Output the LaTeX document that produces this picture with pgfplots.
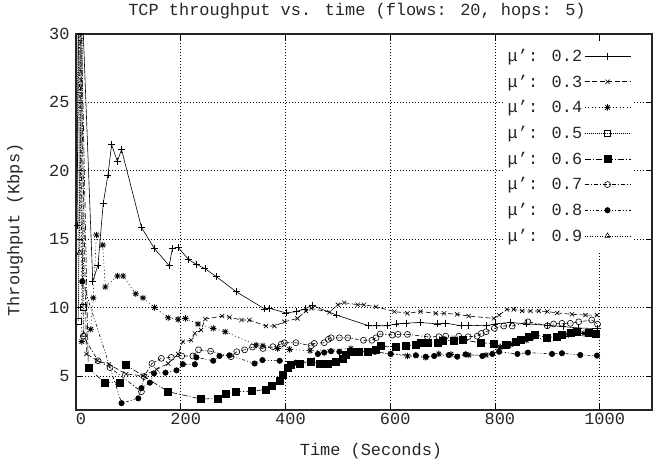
\documentclass[border=0pt]{standalone}
\usepackage{fontspec}
\setmainfont{Liberation Mono}
\usepackage{pgfplots}
\pgfplotsset{compat=1.18}
\pgfdeclareplotmark{plusx}{%
  \pgfpathmoveto{\pgfqpoint{-\pgfplotmarksize}{0pt}}\pgfpathlineto{\pgfqpoint{\pgfplotmarksize}{0pt}}%
  \pgfpathmoveto{\pgfqpoint{0pt}{-\pgfplotmarksize}}\pgfpathlineto{\pgfqpoint{0pt}{\pgfplotmarksize}}%
  \pgfpathmoveto{\pgfqpoint{-0.707\pgfplotmarksize}{-0.707\pgfplotmarksize}}\pgfpathlineto{\pgfqpoint{0.707\pgfplotmarksize}{0.707\pgfplotmarksize}}%
  \pgfpathmoveto{\pgfqpoint{-0.707\pgfplotmarksize}{0.707\pgfplotmarksize}}\pgfpathlineto{\pgfqpoint{0.707\pgfplotmarksize}{-0.707\pgfplotmarksize}}%
  \pgfusepathqstroke}
\newcommand{\fs}{\fontsize{17}{19}\selectfont}
\begin{document}
\begin{tikzpicture}
\begin{axis}[name=ax, at={(0,0)}, anchor=south west,
  scale only axis, width=576bp, height=376bp,
  xmin=0, xmax=1100, ymin=2.5, ymax=30,
  xtick={0,200,...,1000}, ytick={5,10,...,30},
  /pgf/number format/assume math mode=true,
  /pgf/number format/1000 sep={},
  tick label style={font=\fs, text=black!85},
  xticklabel style={xshift=5bp},
  yticklabel style={xshift=-3bp},
  major tick length=6bp,
  tick style={black, line width=0.6bp},
  axis line style={black!85, line width=1.2bp},
  grid=major,
  major grid style={black, line width=0.6bp, dash pattern=on 1bp off 2bp},
  clip=true,
  every axis plot/.append style={black, line width=0.6bp},
  legend plot pos=right,
  legend cell align=right,
  legend image code/.code={\draw[mark repeat=2,mark phase=2] plot coordinates {(0bp,0bp) (23bp,0bp) (46bp,0bp)};},
  legend style={at={(rel axis cs:1,1)}, anchor=north east, xshift=-18bp, yshift=-7bp,
    draw=none, fill=white, font=\fs, text=black!85, row sep=0pt,
    nodes={minimum height=25.7bp, inner ysep=0pt}},
]
% mu' 0.2
\addplot[solid, mark=+, mark size=3.5bp] coordinates {
(2,16) (6,38) (32,11.9) (42,13.1) (52,17.6) (61,19.7) (68,21.9) (79,20.7) (87,21.55)
(125,15.85) (150,14.3) (178,13.05) (184,14.3) (195,14.4) (215,13.5) (230,13.15) (246,12.85)
(268,12.25) (306,11.15) (360,9.9) (370,9.93) (401,9.6) (421,9.7) (437,9.9) (451,10.15)
(497,9.45) (559,8.66) (573,8.66) (594,8.66) (611,8.8) (630,8.85) (657,8.9) (690,8.8)
(706,8.85) (735,8.66) (750,8.7) (783,8.66) (800,8.8) (830,8.9) (860,8.8) (900,8.7)
(930,8.6) (960,8.5) (996,8.45)};
\addlegendentry{μ': 0.2}
% mu' 0.3
\addplot[dash pattern=on 5bp off 2.5bp, mark=x, mark size=3bp, mark options={solid}] coordinates {
(4,40) (20,6.6) (41,6.1) (63,5.84) (96,5.13) (128,5.0) (154,5.47) (176,5.9) (195,6.6)
(204,7.5) (220,7.6) (227,8.1) (239,8.35) (247,9.15) (279,9.37) (293,9.28) (316,9.08)
(331,9.08) (363,8.64) (379,8.64) (398,8.95) (423,9.2) (439,9.74) (449,9.93) (484,9.65)
(500,10.2) (512,10.35) (538,10.2) (550,10.2) (573,10.05) (608,9.7) (633,9.57) (658,9.7)
(687,9.57) (703,9.57) (728,9.5) (750,9.37) (798,9.2) (808,9.44) (823,9.86) (836,9.86)
(852,9.74) (868,9.74) (884,9.74) (900,9.7) (919,9.6) (947,9.5) (973,9.44) (995,9.44)};
\addlegendentry{μ': 0.3}
% mu' 0.4
\addplot[dash pattern=on 1bp off 2.5bp, mark=plusx, mark size=3.2bp, mark options={solid, line width=0.8bp}] coordinates {
(5,38) (11,7.5) (28,8.4) (33,10.7) (39,15.3) (51,14.56) (56,11.5) (79,12.3) (90,12.3)
(114,11.0) (128,10.7) (150,10.0) (176,9.25) (195,9.13) (209,9.2) (233,8.79) (262,8.47)
(285,8.22) (344,7.25) (357,7.2) (385,7.0) (408,6.93) (447,6.83) (525,7.0) (601,6.6)
(633,6.45) (668,6.35) (693,6.6) (716,6.57) (750,6.52) (783,6.52) (810,7.1) (830,7.3)
(860,7.6) (900,7.8) (940,8.0) (970,8.1) (995,8.0)};
\addlegendentry{μ': 0.4}
% mu' 0.5
\addplot[dash pattern=on 0.8bp off 1.2bp, mark=square, mark size=3bp, mark options={solid}] coordinates {
(1,36) (5,9) (9,34) (13,10)};
\addlegendentry{μ': 0.5}
% mu' 0.6
\addplot[dash pattern=on 6bp off 2bp on 1bp off 2bp, mark=square*, mark size=3.5bp, mark options={solid}] coordinates {
(7,37) (23.5,5.55) (55,4.5) (84,4.5) (95,5.8) (176,3.84) (239,3.3) (271,3.35) (287,3.65)
(306,3.84) (335,3.87) (362,4.0) (373,4.3) (389,4.6) (394,5.1) (404,5.55) (411,5.84)
(428,5.9) (449,6.03) (465,5.9) (481,5.86) (497,6.03) (509,6.28) (516,6.52) (525,6.76)
(541,6.76) (557,6.76) (573,6.9) (582,7.18) (611,7.13) (630,7.18) (649,7.25) (658,7.4)
(671,7.45) (690,7.45) (700,7.57) (722,7.57) (738,7.62) (774,7.42) (798,7.35) (820,7.3)
(839,7.5) (849,7.67) (865,7.86) (877,7.98) (900,7.81) (919,7.86) (928,7.98) (944,8.15)
(957,8.22) (979,8.15) (992,8.1)};
\addlegendentry{μ': 0.6}
% mu' 0.7
\addplot[dash pattern=on 4bp off 2bp on 1bp off 2bp, mark=o, mark size=3bp, mark options={solid}] coordinates {
(5,38) (14,7.9) (42,6.1) (65,5.6) (125,3.84) (130,4.95) (145,5.9) (163,6.28) (182,6.35)
(202,6.45) (223,6.45) (234,6.9) (257,6.8) (296,6.4) (307,6.76) (322,6.9) (337,7.1)
(357,7.0) (376,7.13) (392,7.32) (398,7.42) (420,7.42) (449,7.2) (455,7.37) (474,7.42)
(482,7.67) (487,7.78) (503,7.78) (519,7.78) (549,7.6) (565,7.6) (573,7.78) (581,8.06)
(604,7.98) (615,8.03) (633,8.03) (671,7.86) (693,7.86) (706,7.9) (731,7.9) (749,7.86)
(766,7.9) (774,8.1) (783,8.22) (799,8.47) (817,8.64) (833,8.64) (863,8.95) (900,8.66)
(912,8.79) (928,8.84) (944,8.84) (960,8.95) (985,9.08) (996,8.77)};
\addlegendentry{μ': 0.7}
% mu' 0.8
\addplot[dash pattern=on 3bp off 2bp on 1bp off 2bp on 1bp off 2bp, mark=*, mark size=2.7bp, mark options={solid}] coordinates {
(3,36) (12,11.9) (87,3.0) (119,3.35) (125,4.1) (141,4.5) (149,5.18) (171,5.23) (192,5.4)
(204,5.85) (227,5.84) (230,6.35) (262,6.1) (274,6.45) (293,6.5) (341,5.9) (356,6.15)
(389,6.1) (420,5.96) (449,6.1) (462,6.6) (474,6.7) (487,6.8) (503,6.76) (522,6.65)
(541,6.76) (559,6.76) (571,6.76) (601,6.6) (649,6.5) (668,6.4) (684,6.45) (712,6.52)
(728,6.4) (744,6.57) (776,6.45) (795,6.6) (808,6.76) (843,6.6) (863,6.7) (909,6.6)
(928,6.65) (963,6.52) (995,6.48)};
\addlegendentry{μ': 0.8}
% mu' 0.9
\addplot[dash pattern=on 1bp off 1.5bp, mark=triangle, mark size=3bp, mark options={solid}] coordinates {
(3,38) (7,14) (11,36) (15,8)};
\addlegendentry{μ': 0.9}
\end{axis}
\path[use as bounding box] ([xshift=-76bp,yshift=-51bp]ax.south west) rectangle ([xshift=1bp,yshift=34bp]ax.north east);
\node[font=\fs, text=black!85] at ([xshift=-7bp,yshift=23bp]ax.north) {TCP throughput vs. time (flows: 20, hops: 5)};
\node[font=\fs, text=black!85] at ([xshift=7bp,yshift=-41bp]ax.south) {Time (Seconds)};
\node[font=\fs, text=black!85, rotate=90] at ([xshift=-61bp,yshift=-8bp]ax.west) {Throughput (Kbps)};
\end{tikzpicture}
\end{document}
